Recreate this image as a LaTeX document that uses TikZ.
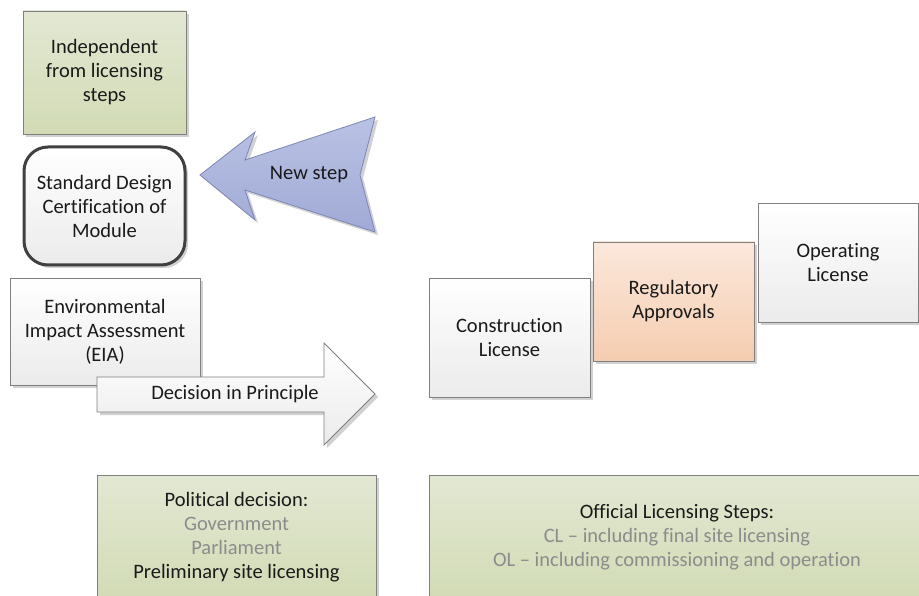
\documentclass[tikz,border=0pt]{standalone}
\usepackage{fontspec}
\setmainfont{Carlito}[Ligatures=NoCommon]
\usepackage{tikz}
\usetikzlibrary{shadows}

\definecolor{boxLine}{HTML}{808080}
\definecolor{greyTop}{HTML}{FFFFFF}
\definecolor{greyBottom}{HTML}{EBEBEB}
\definecolor{greenTop}{HTML}{E2E8D3}
\definecolor{greenBottom}{HTML}{D2DBB5}
\definecolor{peachTop}{HTML}{FBE8DC}
\definecolor{peachBottom}{HTML}{F5CDB0}
\definecolor{blueTop}{HTML}{BAC2E4}
\definecolor{blueBottom}{HTML}{A0AAD5}
\definecolor{blueLine}{HTML}{7C86B8}
\definecolor{fadedText}{HTML}{8C8C8C}
\definecolor{darkText}{HTML}{1A1A1A}

\newcommand\textSize{\fontsize{20.5}{24}\selectfont}
\newcommand\faded[1]{\textcolor{fadedText}{#1}}

\tikzset{
    softshadow/.style={drop shadow={shadow xshift=3pt, shadow yshift=-3pt, opacity=0.18, fill=black}},
    stepbox/.style={draw=boxLine, line width=0.8pt, top color=greyTop, bottom color=greyBottom,
        align=center, inner sep=0pt, text=darkText, font=\textSize, softshadow},
    notebox/.style={stepbox, top color=greenTop, bottom color=greenBottom},
    approvalbox/.style={stepbox, top color=peachTop, bottom color=peachBottom},
    modulebox/.style={stepbox, draw=black!75, line width=3pt, rounded corners=24pt},
    bigarrow/.style={draw=boxLine, line width=0.8pt, top color=greyTop, bottom color=greyBottom, softshadow},
    newarrow/.style={bigarrow, draw=blueLine, top color=blueTop, bottom color=blueBottom},
    arrowtext/.style={font=\textSize, text=darkText, inner sep=0pt},
}

\begin{document}
\begin{tikzpicture}[x=1pt, y=-1pt]
    \useasboundingbox (0,0) rectangle (919,596);

    % left column
    \node[notebox, minimum width=163pt, minimum height=123pt] (independent) at (104.5,72.5)
        {Independent\\from licensing\\steps};
    \node[modulebox, minimum width=161pt, minimum height=118pt] (module) at (104.5,206)
        {Standard Design\\Certification of\\Module};
    \node[stepbox, minimum width=190pt, minimum height=107pt] (eia) at (105,331.5)
        {Environmental\\Impact Assessment\\(EIA)};

    % arrow pointing back at the module certification
    \path[newarrow] (200,175) -- (255,132) -- (245,160) -- (375,117) -- (360,175)
        -- (375,232) -- (245,190) -- (255,220) -- cycle;
    \node[arrowtext] (newstep) at (309,175) {New step};

    % arrow towards the licensing steps
    \path[bigarrow] (97,377) -- (324,377) -- (324,343) -- (375,394) -- (324,445)
        -- (324,412) -- (97,412) -- cycle;
    \node[arrowtext] (principle) at (235,394) {Decision in Principle};

    % licensing staircase
    \node[stepbox, minimum width=161pt, minimum height=119pt] (construction) at (509.5,337.5)
        {Construction\\License};
    \node[approvalbox, minimum width=161pt, minimum height=119pt] (approvals) at (673.5,301.5)
        {Regulatory\\Approvals};
    \node[stepbox, minimum width=160pt, minimum height=119pt] (operating) at (838,262.5)
        {Operating\\License};

    % notes along the bottom
    \node[notebox, minimum width=279pt, minimum height=124pt] (political) at (236.5,537)
        {Political decision:\\\faded{Government}\\\faded{Parliament}\\Preliminary site licensing};
    \node[notebox, minimum width=496pt, minimum height=124pt] (official) at (677,537)
        {Official Licensing Steps:\\\faded{CL -- including final site licensing}\\\faded{OL -- including commissioning and operation}};
\end{tikzpicture}
\end{document}
